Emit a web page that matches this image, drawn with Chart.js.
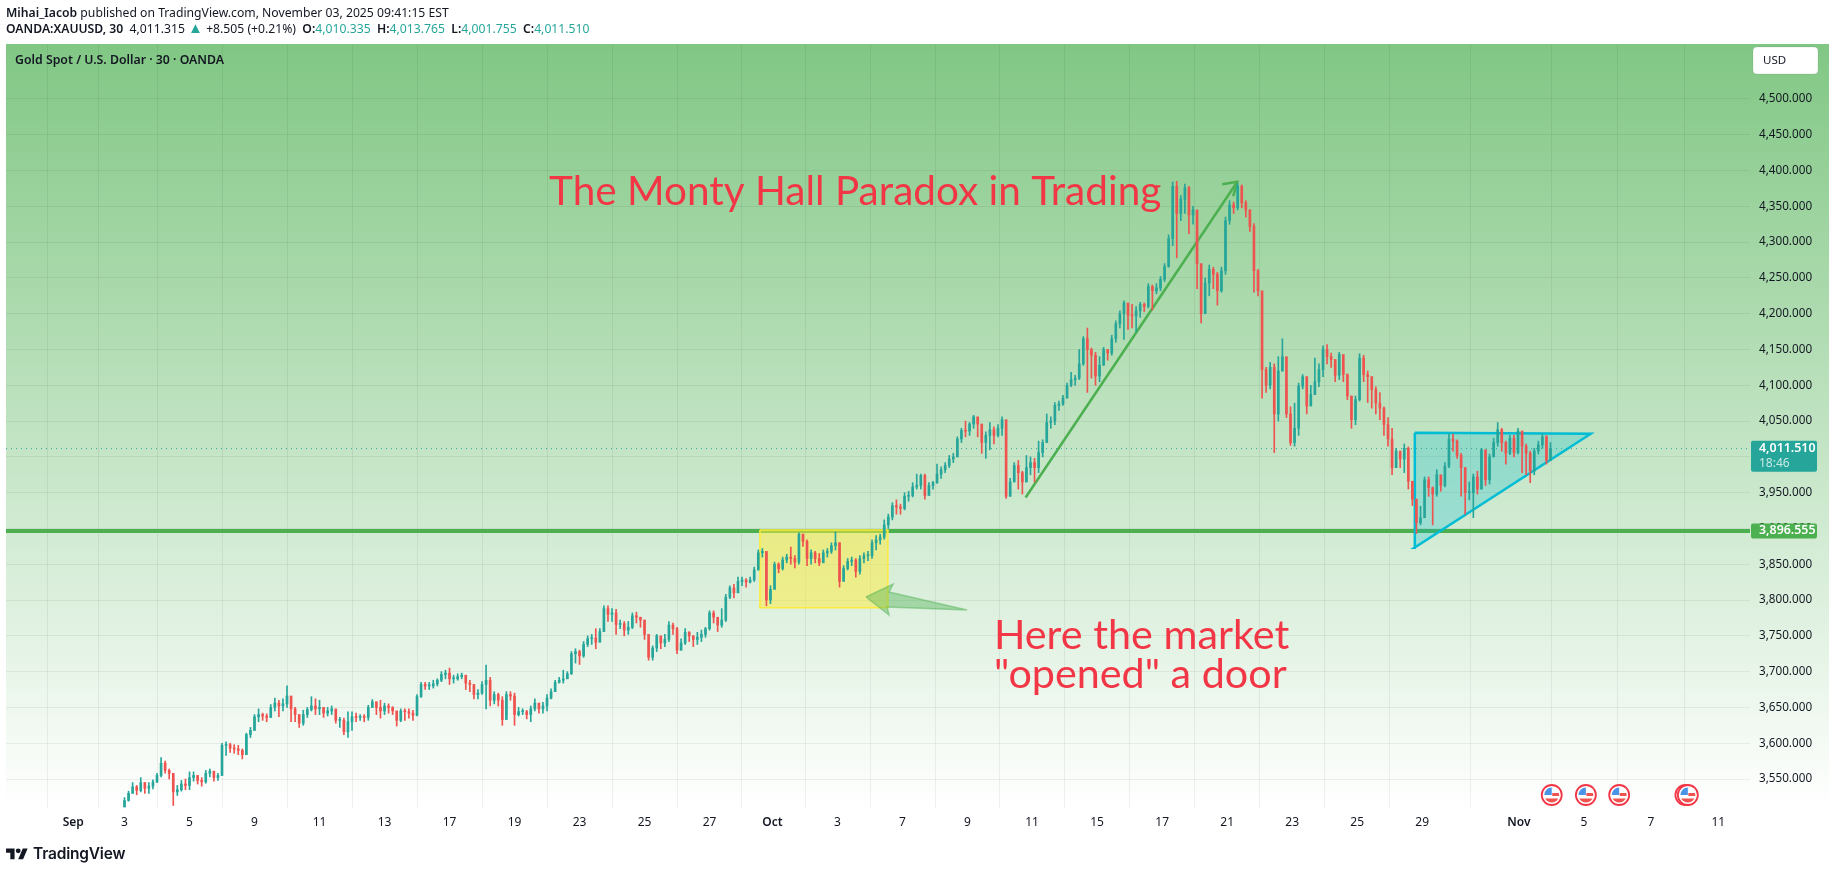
<!DOCTYPE html>
<html><head><meta charset="utf-8">
<script src="https://cdn.jsdelivr.net/npm/chart.js@4"></script>
<style>
html,body{margin:0;padding:0;background:#fff;width:1829px;height:873px;overflow:hidden}
canvas{position:absolute;left:0;top:0}
.t{position:absolute;white-space:nowrap;font-family:"Noto Sans",sans-serif;color:#131722;line-height:16px}
.m{font-weight:600}.g{color:#26a69a}
</style></head><body>
<canvas id="c" width="1829" height="873"></canvas>
<div class="t" style="left:6px;top:5px;font-size:12.2px"><span class="m">Mihai_Iacob</span> published on TradingView.com, November 03, 2025 09:41:15 EST</div>
<div class="t" style="left:6px;top:21px;font-size:12.2px"><span class="m">OANDA:XAUUSD, 30</span>&nbsp; 4,011.315 <span class="g" style="font-size:15px;line-height:12px">▲</span> +8.505 (+0.21%)&nbsp; <span class="m">O:</span><span class="g">4,010.335</span>&nbsp; <span class="m">H:</span><span class="g">4,013.765</span>&nbsp; <span class="m">L:</span><span class="g">4,001.755</span>&nbsp; <span class="m">C:</span><span class="g">4,011.510</span></div>
<div class="t m" style="left:15px;top:52px;font-size:12.3px">Gold Spot / U.S. Dollar · 30 · OANDA</div>
<svg style="position:absolute;left:6px;top:846px" width="22" height="17" viewBox="0 0 36 28"><path fill="#131722" d="M14 22H7V11H0V4h14v18zM28 22h-8l7.5-18h8L28 22z"/><circle fill="#131722" cx="20" cy="8" r="4"/></svg>
<div class="t" style="left:33px;top:846px;font-size:15.5px;font-weight:600;font-family:Inter,'Noto Sans',sans-serif;letter-spacing:-.2px">TradingView</div>
<script>
const closes=[
3520,3530,3539,3534,3545,3537,3540,3546,3555,3572,
3562,3558,3532,3535,3543,3541,3552,3555,3548,3546,
3558,3561,3552,3555,3597,3598,3593,3592,3590,3584,
3612,3618,3637,3640,3638,3636,3650,3656,3652,3655,
3666,3648,3640,3628,3640,3647,3652,3648,3650,3642,
3645,3648,3632,3632,3616,3630,3637,3636,3637,3636,
3650,3658,3650,3645,3652,3650,3645,3632,3645,3644,
3642,3639,3665,3682,3680,3680,3683,3688,3696,3698,
3690,3690,3693,3695,3684,3682,3668,3670,3682,3688,
3660,3668,3660,3633,3668,3666,3640,3644,3644,3640,
3648,3656,3648,3652,3663,3672,3685,3688,3690,3697,
3725,3728,3722,3738,3746,3747,3741,3756,3788,3780,
3782,3766,3767,3758,3762,3778,3776,3772,3752,3720,
3733,3750,3740,3745,3765,3760,3730,3740,3755,3750,
3745,3748,3752,3760,3782,3776,3765,3772,3804,3817,
3810,3826,3828,3825,3828,3842,3866,3868,3800,3815,
3850,3844,3856,3860,3858,3853,3892,3882,3858,3866,
3858,3852,3866,3868,3876,3880,3826,3844,3854,3856,
3840,3858,3862,3862,3880,3884,3888,3905,3916,3932,
3930,3928,3945,3946,3958,3960,3974,3946,3960,3964,
3976,3982,3988,3997,4000,4025,4037,4036,4046,4056,
4046,4020,4030,4038,4030,4040,4052,3945,3965,3988,
3978,3965,3985,3992,3985,4006,4020,4048,4050,4072,
4074,4082,4100,4108,4110,4130,4165,4150,4142,4113,
4128,4150,4145,4165,4186,4200,4215,4198,4197,4204,
4213,4210,4238,4232,4236,4248,4266,4305,4378,4340,
4360,4376,4338,4345,4270,4200,4243,4262,4255,4232,
4260,4330,4352,4348,4378,4355,4345,4322,4260,4232,
4122,4100,4125,4060,4120,4140,4060,4020,4040,4099,
4112,4071,4087,4105,4122,4150,4140,4136,4114,4143,
4115,4085,4052,4080,4138,4115,4112,4094,4075,4068,
4045,4025,3985,4008,3997,4012,3966,3941,3908,3915,
3968,3957,3948,3975,3960,3987,4025,4022,4002,3985,
3950,3950,3972,3955,4010,3968,4000,4020,4038,4020,
4005,4026,4006,4036,4015,4005,3980,4008,4017,4028,3995,4011.51];
const highs=[
3524,3533,3545,3541,3552,3545,3545,3549,3558,3580,
3575,3564,3552,3541,3548,3550,3560,3560,3555,3552,
3562,3564,3558,3558,3600,3602,3600,3598,3597,3592,
3614,3622,3640,3648,3642,3641,3654,3663,3660,3662,
3680,3662,3650,3640,3646,3650,3665,3662,3660,3650,
3650,3652,3645,3636,3635,3644,3644,3642,3640,3640,
3653,3661,3657,3660,3656,3655,3651,3645,3648,3648,
3648,3646,3668,3685,3685,3685,3688,3690,3700,3702,
3705,3695,3697,3698,3695,3688,3682,3675,3686,3709,
3692,3672,3670,3665,3672,3672,3670,3650,3648,3646,
3652,3662,3656,3657,3668,3676,3688,3692,3702,3700,
3728,3732,3730,3742,3750,3752,3760,3760,3792,3792,
3788,3787,3772,3770,3770,3782,3783,3776,3772,3740,
3736,3752,3746,3752,3770,3768,3762,3746,3760,3756,
3750,3755,3758,3762,3785,3785,3772,3788,3808,3820,
3822,3832,3832,3830,3832,3846,3870,3872,3866,3820,
3853,3852,3860,3864,3874,3862,3894,3892,3884,3870,
3868,3865,3870,3872,3880,3895,3880,3848,3858,3860,
3858,3862,3866,3868,3884,3890,3892,3912,3920,3936,
3940,3934,3950,3952,3964,3976,3976,3976,3964,3966,
3990,3986,3992,4002,4005,4028,4040,4050,4048,4058,
4054,4040,4035,4048,4042,4045,4056,4050,3970,3992,
3995,3980,4002,4000,3998,4022,4024,4060,4056,4076,
4078,4086,4103,4118,4114,4150,4168,4180,4152,4146,
4140,4153,4150,4170,4190,4204,4218,4212,4213,4210,
4216,4215,4242,4240,4242,4252,4270,4310,4384,4385,
4365,4381,4378,4350,4320,4262,4250,4268,4265,4258,
4265,4335,4358,4356,4382,4380,4358,4345,4326,4262,
4190,4125,4132,4130,4140,4165,4105,4070,4075,4103,
4115,4112,4100,4138,4130,4155,4157,4145,4136,4146,
4125,4116,4085,4085,4144,4142,4120,4112,4098,4090,
4070,4055,4040,4012,4008,4018,4014,3966,3932,3931,
3972,3972,3958,3982,3972,3992,4032,4032,4024,4005,
3985,3965,3976,3980,4012,3985,4004,4026,4048,4040,
4022,4030,4030,4040,4036,4018,4008,4012,4022,4032,4030,4020];
const lows=[
3511,3519,3530,3528,3532,3530,3530,3536,3545,3553,
3558,3550,3513,3527,3533,3535,3535,3547,3543,3540,
3544,3553,3547,3548,3555,3583,3587,3586,3584,3578,
3584,3608,3618,3630,3632,3630,3636,3645,3637,3645,
3650,3630,3630,3622,3625,3636,3645,3640,3640,3636,
3638,3640,3628,3622,3612,3608,3618,3630,3632,3630,
3632,3650,3640,3635,3640,3642,3640,3624,3630,3632,
3635,3632,3638,3664,3675,3675,3677,3680,3686,3690,
3682,3684,3688,3690,3675,3672,3662,3662,3668,3648,
3652,3655,3652,3625,3640,3660,3625,3638,3640,3634,
3630,3645,3642,3642,3645,3662,3672,3684,3684,3690,
3696,3712,3710,3720,3735,3738,3732,3742,3756,3770,
3770,3752,3760,3750,3752,3760,3768,3762,3745,3716,
3716,3728,3732,3735,3742,3752,3725,3730,3738,3742,
3735,3738,3742,3748,3758,3768,3756,3762,3770,3802,
3803,3812,3820,3818,3824,3826,3842,3860,3792,3795,
3815,3838,3842,3852,3850,3845,3850,3875,3848,3850,
3852,3848,3856,3860,3865,3870,3818,3830,3842,3848,
3832,3836,3852,3855,3858,3870,3878,3885,3900,3912,
3920,3920,3926,3938,3944,3955,3955,3941,3948,3955,
3963,3970,3978,3985,3992,4000,4020,4028,4030,4040,
4028,4005,3998,4010,4018,4028,4030,3942,3945,3965,
3955,3948,3965,3975,3965,3978,4000,4020,4040,4045,
4065,4072,4085,4098,4100,4108,4128,4090,4110,4100,
4105,4128,4135,4142,4160,4180,4164,4178,4180,4175,
4195,4203,4208,4205,4228,4232,4245,4265,4295,4278,
4330,4340,4312,4325,4235,4187,4205,4225,4235,4212,
4230,4255,4325,4340,4345,4348,4335,4315,4230,4225,
4082,4090,4095,4006,4050,4120,4055,4016,4015,4030,
4095,4060,4072,4095,4098,4112,4130,4125,4105,4108,
4105,4080,4040,4045,4078,4105,4076,4068,4060,4052,
4030,4015,3975,3992,3985,3978,3955,3932,3893,3905,
3930,3945,3905,3945,3952,3958,3985,4008,3998,3945,
3920,3940,3915,3948,3955,3960,3962,4000,4015,4008,
3990,4003,4000,4004,3978,3975,3964,3975,4004,4012,3990,4000];
const tickLabels=['Sep','3','5','9','11','13','17','19','23','25','27','Oct','3','7','9','11','15','17','21','23','25','29','Nov','5','7','11'];
const tickSlots=[-12.6,0,16,32,48,64,80,96,112,128,144,159.5,175.5,191.5,207.5,223.4,239.4,255.4,271.4,287.4,303.4,319.4,343.2,359.2,375.7,392.3];
const monthLabels=['Sep','Oct','Nov'];
const priceTicks=[3550,3600,3650,3700,3750,3800,3850,3900,3950,4000,4050,4100,4150,4200,4250,4300,4350,4400,4450,4500];
const supportLevel=3896.555, lastPrice=4011.51;
const doorBox=[[156.4,3897.9],[187.9,3897.9],[187.9,3789.3],[156.4,3789.3],[156.4,3897.9]];
const bigArrow=[[182.5,3804.3],[189.2,3822.4],[188.2,3811.2],[207.4,3786.1],[187.7,3790.3],[188.2,3779.1],[182.5,3804.3]];
const triangle=[[317.6,4033.8],[360.9,4032.4],[317.5,3873.1],[317.6,4033.8]];
const trendArrow=[[221.8,3943.3],[273.9,4384.4]];
const trendHead=[[270.2,4380.8],[273.9,4384.4],[272.9,4364.4]];
const eventSlots=[351.3,359.7,367.9,384.2,384.8];
const TEAL='#26a69a',RED='#ef5350',GREEN='#4caf50',CYAN='#00bcd4',ANN='#f23645';
const opens=closes.map((c,i)=>i?closes[i-1]:lows[0]);
const pts=a=>a.map(p=>({x:p[0],y:p[1]}));
const candleColor=c=>closes[c.dataIndex]>=opens[c.dataIndex]?TEAL:RED;
const poly=(data,border,bg,w,order,fill,dash)=>({type:'line',data:pts(data),borderColor:border,backgroundColor:bg,borderWidth:w,pointRadius:0,tension:0,fill:fill?'shape':false,order,borderJoinStyle:'miter',borderDash:dash||[]});
const fmt=v=>v.toLocaleString('en-US',{minimumFractionDigits:3,maximumFractionDigits:3});
const LEFT_SLOT=-29.17,RIGHT_SLOT=400.1;

function tag(ctx,x,y,w,h,color){ctx.fillStyle=color;ctx.beginPath();ctx.roundRect(x,y,w,h,2);ctx.fill();}
function flag(ctx,cx,cy){
  ctx.save();
  ctx.beginPath();ctx.arc(cx,cy,10,0,7);ctx.fillStyle='#fff';ctx.fill();
  ctx.strokeStyle=ANN;ctx.lineWidth=1.8;ctx.stroke();
  ctx.beginPath();ctx.arc(cx,cy,7.5,0,7);ctx.clip();
  ctx.fillStyle='#fff';ctx.fillRect(cx-8,cy-8,16,16);
  ctx.fillStyle='#f0524f';ctx.fillRect(cx+.5,cy-2,8,3);ctx.fillRect(cx-8,cy+3.5,16,5);
  ctx.fillStyle='#4a94e8';ctx.fillRect(cx-8,cy-8,8,8);
  ctx.restore();
}
const chrome={id:'chrome',
  beforeDraw(ch){
    const {ctx,chartArea:a,width}=ch;
    const g=ctx.createLinearGradient(0,a.top,0,a.bottom);
    g.addColorStop(0,'#81c784');g.addColorStop(1,'#ffffff');
    ctx.fillStyle=g;ctx.fillRect(a.left,a.top,width-a.left,a.bottom-a.top);
  },
  afterDraw(ch){
    const {ctx,scales:{x,y},chartArea:a}=ch;
    ctx.save();
    ctx.textBaseline='alphabetic';ctx.textAlign='left';
    ctx.fillStyle=ANN;ctx.font='40.5px Lato';
    ctx.fillText('The Monty Hall Paradox in Trading',x.getPixelForValue(104.5),y.getPixelForValue(4352));
    ctx.font='41.3px Lato';
    ctx.fillText('Here the market',x.getPixelForValue(214),y.getPixelForValue(3731));
    ctx.fillText('"opened" a door',x.getPixelForValue(214),y.getPixelForValue(3677));
    const L=a.right+1,W=66;
    const ly=y.getPixelForValue(lastPrice),sy=y.getPixelForValue(supportLevel);
    tag(ctx,L,ly-8,W,31,TEAL);
    tag(ctx,L,sy-7.5,W,15,GREEN);
    ctx.font='600 12.4px "Noto Sans"';ctx.fillStyle='#fff';ctx.textBaseline='middle';
    ctx.fillText(fmt(lastPrice),L+8,ly);
    ctx.fillText(fmt(supportLevel),L+8,sy);
    ctx.font='12px "Noto Sans"';ctx.fillStyle='rgba(255,255,255,.75)';
    ctx.fillText('18:46',L+8,ly+15);
    ctx.fillStyle='#fff';ctx.strokeStyle='rgba(0,0,0,.08)';ctx.lineWidth=1;
    ctx.beginPath();ctx.roundRect(a.right+3,a.top+3,65,27,4);ctx.fill();ctx.stroke();
    ctx.fillStyle='#131722';ctx.font='11.5px "Noto Sans"';
    ctx.fillText('USD',a.right+13,a.top+17);
    eventSlots.forEach(s=>flag(ctx,x.getPixelForValue(s),a.bottom-13));
    ctx.restore();
  }};
new Chart(document.getElementById('c'),{
  type:'bar',
  data:{datasets:[
    {label:'wick',data:closes.map((c,i)=>({x:i,y:[lows[i],highs[i]]})),backgroundColor:candleColor,barThickness:1,grouped:false,order:2},
    {label:'body',data:closes.map((c,i)=>({x:i,y:[opens[i],c]})),backgroundColor:candleColor,barThickness:2,minBarLength:1,grouped:false,order:1},
    poly([[LEFT_SLOT,lastPrice],[RIGHT_SLOT,lastPrice]],TEAL,TEAL,1,3,false,[1,4]),
    poly(trendArrow,GREEN,GREEN,2.5,4,false),
    poly(trendHead,GREEN,GREEN,2.5,4,false),
    poly(triangle,CYAN,'rgba(0,188,212,.25)',2.5,5,true),
    poly(bigArrow,'rgba(76,175,80,.45)','rgba(76,175,80,.4)',1.5,6,true),
    poly(doorBox,'#ffeb3b','rgba(255,235,59,.5)',1.5,7,true),
    poly([[LEFT_SLOT,supportLevel],[RIGHT_SLOT,supportLevel]],GREEN,GREEN,4,8,false)
  ]},
  options:{
    responsive:false,animation:false,devicePixelRatio:1,
    layout:{padding:{left:6,top:44,right:0,bottom:0}},
    plugins:{legend:{display:false},tooltip:{enabled:false},title:{display:false}},
    scales:{
      x:{type:'linear',min:LEFT_SLOT,max:RIGHT_SLOT,offset:false,
        afterFit(s){s.height=65;},
        afterBuildTicks(s){s.ticks=tickSlots.map(v=>({value:v}));},
        grid:{color:'rgba(0,0,0,.06)',drawTicks:false},border:{display:false},
        ticks:{autoSkip:false,maxRotation:0,padding:7,color:'#131722',
          font:c=>({family:'"Noto Sans"',size:12,weight:monthLabels.includes(tickLabels[c.index])?'600':'400'}),
          callback:(v,i)=>tickLabels[i]}},
      y:{type:'linear',position:'right',min:3509.5,max:4576.8,
        afterFit(s){s.width=79;},
        afterBuildTicks(s){s.ticks=priceTicks.map(v=>({value:v}));},
        grid:{color:'rgba(0,0,0,.06)',drawTicks:false},border:{display:false},
        ticks:{padding:9,color:'#131722',font:{family:'"Noto Sans"',size:11.7},callback:v=>fmt(v)}}
    }
  },
  plugins:[chrome]
});
</script>
</body></html>
